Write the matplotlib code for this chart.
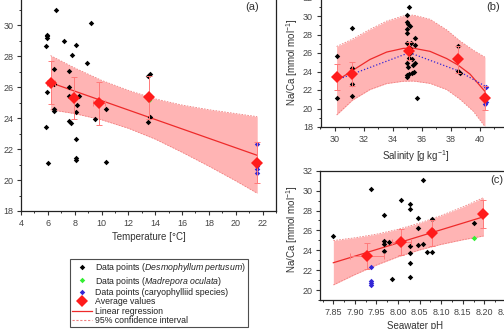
import matplotlib
matplotlib.use("Agg")
import matplotlib.pyplot as plt
from matplotlib.lines import Line2D
from matplotlib.ticker import MultipleLocator, FormatStrFormatter

plt.rcParams['font.family'] = ['Liberation Sans', 'DejaVu Sans']
plt.rcParams['mathtext.fontset'] = 'custom'
plt.rcParams['mathtext.rm'] = 'Liberation Sans'
plt.rcParams['mathtext.it'] = 'Liberation Sans:italic'
plt.rcParams['mathtext.default'] = 'regular'

# =========================
# Data
# =========================
# (a) temperature
temp_dp = [6.59, 9.22, 5.92, 5.92, 5.94, 7.18, 8.10, 5.90, 7.78, 8.95, 6.49, 7.58,
           6.46, 7.58, 5.97, 7.58, 8.30, 8.16, 10.30, 6.49, 6.49, 8.07, 7.60, 7.72,
           9.53, 5.88, 8.07, 8.07, 8.07, 5.99, 10.30, 13.47, 13.64, 13.47, 13.64]
naca_dp_a = [31.0, 30.15, 29.4, 29.3, 29.2, 29.0, 28.72, 28.64, 28.1, 27.58, 27.16, 27.08,
             26.23, 26.0, 25.72, 25.44, 25.41, 24.85, 24.6, 24.6, 24.46, 24.37, 23.82, 23.7,
             23.94, 23.43, 22.68, 21.4, 21.3, 21.12, 21.18, 26.73, 26.84, 23.74, 24.11]
temp_mo = [13.54]
naca_mo_a = [25.2]
temp_cs = [21.6, 21.6, 21.6, 21.6]
naca_cs = [22.34, 20.9, 20.72, 20.48]

temp_avg = [6.25, 7.92, 9.8, 13.54, 21.6]
naca_avg_a = [26.3, 25.3, 24.96, 25.34, 21.12]
naca_err_a = [1.4, 1.35, 1.38, 1.4, 1.34]
temp_err = [0.3, 0, 0.45, 0, 0]

temp_fit = [6.2, 21.6]
naca_fit_a = [26.3, 21.6]
temp_ci = [6.2, 8, 10, 12, 14, 16, 18, 20, 21.6]
ci_hi_a = [28.05, 27.25, 26.45, 25.8, 25.25, 24.85, 24.55, 24.3, 24.1]
ci_lo_a = [24.55, 24.3, 23.9, 23.35, 22.65, 21.8, 20.9, 19.95, 19.15]

# (b) salinity
sal_dp = [30.11, 30.11, 31.2, 31.2, 31.2, 31.2, 35.1, 34.99, 34.95, 35.05, 35.2, 34.99,
          34.95, 35.5, 35.0, 35.25, 35.5, 35.15, 35.2, 35.1, 35.3, 34.95, 35.5, 35.35,
          35.05, 34.95, 34.95, 35.1, 35.3, 35.45, 35.63, 38.48, 38.45, 38.65]
naca_dp_b = [25.71, 21.1, 28.7, 24.35, 22.65, 21.35, 31.0, 30.14, 29.32, 29.14, 28.92, 28.56,
             28.13, 27.59, 27.12, 27.05, 26.83, 26.5, 25.97, 25.42, 25.31, 24.89, 24.89, 24.67,
             24.5, 23.62, 23.44, 23.73, 23.87, 23.95, 21.17, 26.79, 24.09, 23.81]
sal_mo = [38.5]
naca_mo_b = [25.2]
sal_cs = [40.38, 40.36, 40.38, 40.36]

sal_avg = [30.11, 31.2, 35.13, 38.48, 40.34]
naca_avg_b = [23.44, 23.73, 26.22, 25.31, 21.1]
naca_err_b = [1.4, 1.3, 1.0, 1.5, 1.3]

sal_fit = [30.11, 31.2, 32.41, 33.56, 34.71, 35.4, 36.55, 37.7, 38.48, 39.31, 40.34]
naca_fit_b = [23.0, 24.1, 25.3, 26.1, 26.5, 26.52, 26.18, 25.4, 24.7, 23.72, 21.85]
sal_ci = [30.11, 31.2, 32.41, 33.56, 34.71, 35.4, 36.55, 37.7, 38.62, 39.54, 40.34]
ci_hi_b = [26.7, 27.5, 28.55, 29.45, 30.0, 30.1, 29.65, 28.5, 27.3, 26.3, 25.55]
ci_lo_b = [19.3, 20.9, 22.05, 22.7, 22.95, 22.97, 22.72, 22.05, 21.0, 19.7, 18.05]
sal_alt = [30.11, 35.13, 38.48, 40.34]
naca_alt = [23.08, 26.04, 24.09, 22.43]

# (c) pH
ph_dp = [7.85, 7.937, 8.007, 7.967, 7.967, 7.967, 7.978, 7.967, 7.987, 8.027, 8.027, 8.027,
         8.027, 8.027, 8.027, 8.058, 8.047, 8.047, 8.047, 8.058, 8.067, 8.078, 8.078, 8.078,
         8.177]
naca_dp_c = [25.46, 30.16, 29.08, 27.58, 24.93, 24.66, 24.79, 23.92, 21.14, 28.68, 28.14, 24.42,
             23.69, 22.68, 21.34, 31.06, 27.21, 26.27, 24.52, 24.59, 23.79, 23.79, 27.17, 26.0,
             26.77]
ph_mo = [8.177]
naca_mo_c = [25.2]
ph_cs = [7.937, 7.937, 7.937, 7.937]

ph_avg = [7.928, 8.007, 8.078, 8.198]
naca_avg_c = [23.42, 24.83, 25.7, 27.68]
naca_err_c = [1.3, 1.35, 1.3, 1.4]
ph_err = [0.04, 0.022, 0, 0]

ph_fit = [7.85, 8.198]
naca_fit_c = [22.75, 27.37]
ph_ci = [7.85, 7.90, 7.95, 8.00, 8.05, 8.10, 8.15, 8.198]
ci_hi_c = [24.98, 25.26, 25.62, 26.11, 26.74, 27.5, 28.36, 29.3]
ci_lo_c = [20.52, 21.56, 22.52, 23.35, 24.04, 24.6, 25.06, 25.44]

YLABEL = 'Na/Ca [mmol mol$^{-1}$]'

BAND = '#ffb4b4'
BAND_EDGE = '#f08080'
LINE = '#ee2a2a'
AVG = '#ff1c1c'
ERR = '#ff7a7a'
BLUE = '#3326d6'
GREEN = '#33ee33'

# =========================
# Figure
# =========================
W, H = 504, 329
fig = plt.figure(figsize=(W / 100, H / 100), dpi=100)

ax_a = fig.add_axes([21 / W, 1 - 211 / H, 255 / W, 216.5 / H])
ax_b = fig.add_axes([320.5 / W, 1 - 127 / H, 191.4 / W, 129.5 / H])
ax_c = fig.add_axes([320.4 / W, 1 - 300 / H, 189.8 / W, 129.2 / H])


def draw_panel(ax, xd, yd, xmo, ymo, xcs, ycs, xavg, yavg, yerr, xerr,
               xfit, yfit, xci, yhi, ylo):
    ax.fill_between(xci, ylo, yhi, color=BAND, lw=0, zorder=1)
    ax.plot(xci, yhi, color=BAND_EDGE, lw=0.6, ls=(0, (2, 1.5)), zorder=2)
    ax.plot(xci, ylo, color=BAND_EDGE, lw=0.6, ls=(0, (2, 1.5)), zorder=2)
    ax.plot(xfit, yfit, color=LINE, lw=0.9, zorder=3)
    ax.plot(xd, yd, 'D', color='black', ms=2.8, mew=0, zorder=4)
    ax.plot(xmo, ymo, 'D', color=GREEN, ms=2.8, mew=0, zorder=4)
    ax.plot(xcs, ycs, 'D', color=BLUE, ms=2.8, mew=0, zorder=4)
    ax.errorbar(xavg, yavg, yerr=yerr, xerr=xerr, fmt='none', ecolor=ERR,
                elinewidth=0.7, capsize=2.2, capthick=0.7, zorder=5)
    ax.plot(xavg, yavg, 'D', color=AVG, ms=6, mew=0, zorder=6)


draw_panel(ax_a, temp_dp, naca_dp_a, temp_mo, naca_mo_a, temp_cs, naca_cs,
           temp_avg, naca_avg_a, naca_err_a, temp_err,
           temp_fit, naca_fit_a, temp_ci, ci_hi_a, ci_lo_a)
draw_panel(ax_b, sal_dp, naca_dp_b, sal_mo, naca_mo_b, sal_cs, naca_cs,
           sal_avg, naca_avg_b, naca_err_b, None,
           sal_fit, naca_fit_b, sal_ci, ci_hi_b, ci_lo_b)
ax_b.plot(sal_alt, naca_alt, color=BLUE, lw=0.9, ls=(0, (1, 1.6)), zorder=3)
draw_panel(ax_c, ph_dp, naca_dp_c, ph_mo, naca_mo_c, ph_cs, naca_cs,
           ph_avg, naca_avg_c, naca_err_c, ph_err,
           ph_fit, naca_fit_c, ph_ci, ci_hi_c, ci_lo_c)

# axes limits / ticks
ax_a.set_xlim(4, 23)
ax_a.set_ylim(18, 32)
ax_a.xaxis.set_major_locator(MultipleLocator(2))
ax_a.xaxis.set_minor_locator(MultipleLocator(1))

ax_b.set_xlim(29, 42.2)
ax_b.set_ylim(18, 32)
ax_b.xaxis.set_major_locator(MultipleLocator(2))
ax_b.xaxis.set_minor_locator(MultipleLocator(1))

ax_c.set_xlim(7.82, 8.26)
ax_c.set_ylim(19, 32)
ax_c.xaxis.set_major_locator(MultipleLocator(0.05))
ax_c.xaxis.set_minor_locator(MultipleLocator(0.025))
ax_c.xaxis.set_major_formatter(FormatStrFormatter('%.2f'))

for ax in (ax_a, ax_b, ax_c):
    ax.yaxis.set_major_locator(MultipleLocator(2))
    ax.yaxis.set_minor_locator(MultipleLocator(1))
    ax.tick_params(which='major', direction='out', length=3, width=0.8,
                   labelsize=6.5, pad=2.5, colors='#333333', labelcolor='#444444')
    ax.tick_params(which='minor', direction='out', length=1.6, width=0.7,
                   colors='#333333')
    for sp in ax.spines.values():
        sp.set_linewidth(0.9)
        sp.set_color('#222222')

ax_a.set_xlabel('Temperature [°C]', fontsize=7, color='#333333', labelpad=3)
ax_a.set_ylabel(YLABEL, fontsize=7, color='#333333')
ax_a.yaxis.set_label_coords(-0.076, 0.52)

ax_b.set_xlabel('Salinity [g kg$^{-1}$]', fontsize=7, color='#333333', labelpad=3)
ax_b.set_ylabel(YLABEL, fontsize=7, color='#333333')
ax_b.yaxis.set_label_coords(-0.105, 0.5)

ax_c.set_xlabel('Seawater pH', fontsize=7, color='#333333', labelpad=3)
ax_c.set_ylabel(YLABEL, fontsize=7, color='#333333')
ax_c.yaxis.set_label_coords(-0.105, 0.55)

fig.text(252 / W, 1 - 7 / H, '(a)', fontsize=8, color='#333333', ha='center', va='center')
fig.text(493 / W, 1 - 7 / H, '(b)', fontsize=8, color='#333333', ha='center', va='center')
fig.text(497 / W, 1 - 180 / H, '(c)', fontsize=8, color='#333333', ha='center', va='center')

# legend
handles = [
    Line2D([], [], ls='none', marker='D', color='black', ms=2.8, mew=0),
    Line2D([], [], ls='none', marker='D', color=GREEN, ms=2.8, mew=0),
    Line2D([], [], ls='none', marker='D', color=BLUE, ms=2.8, mew=0),
    Line2D([], [], ls='none', marker='D', color=AVG, ms=6, mew=0),
    Line2D([], [], color=LINE, lw=0.9),
    Line2D([], [], color=BAND_EDGE, lw=0.8, ls=(0, (2, 1.5))),
]
labels = [
    r'Data points ($\mathit{Desmophyllum\ pertusum}$)',
    r'Data points ($\mathit{Madrepora\ oculata}$)',
    'Data points (caryophylliid species)',
    'Average values',
    'Linear regression',
    '95% confidence interval',
]
leg = fig.legend(handles, labels, loc='upper left', bbox_to_anchor=(70 / W, 1 - 259 / H),
                 fontsize=6.3, frameon=True, fancybox=False, edgecolor='#222222',
                 handlelength=2.3, handletextpad=0.3, borderpad=0.25, labelspacing=0.04,
                 borderaxespad=0)
leg.get_frame().set_linewidth(0.8)
for t in leg.get_texts():
    t.set_color('#222222')

fig.savefig('out.png', dpi=100)
